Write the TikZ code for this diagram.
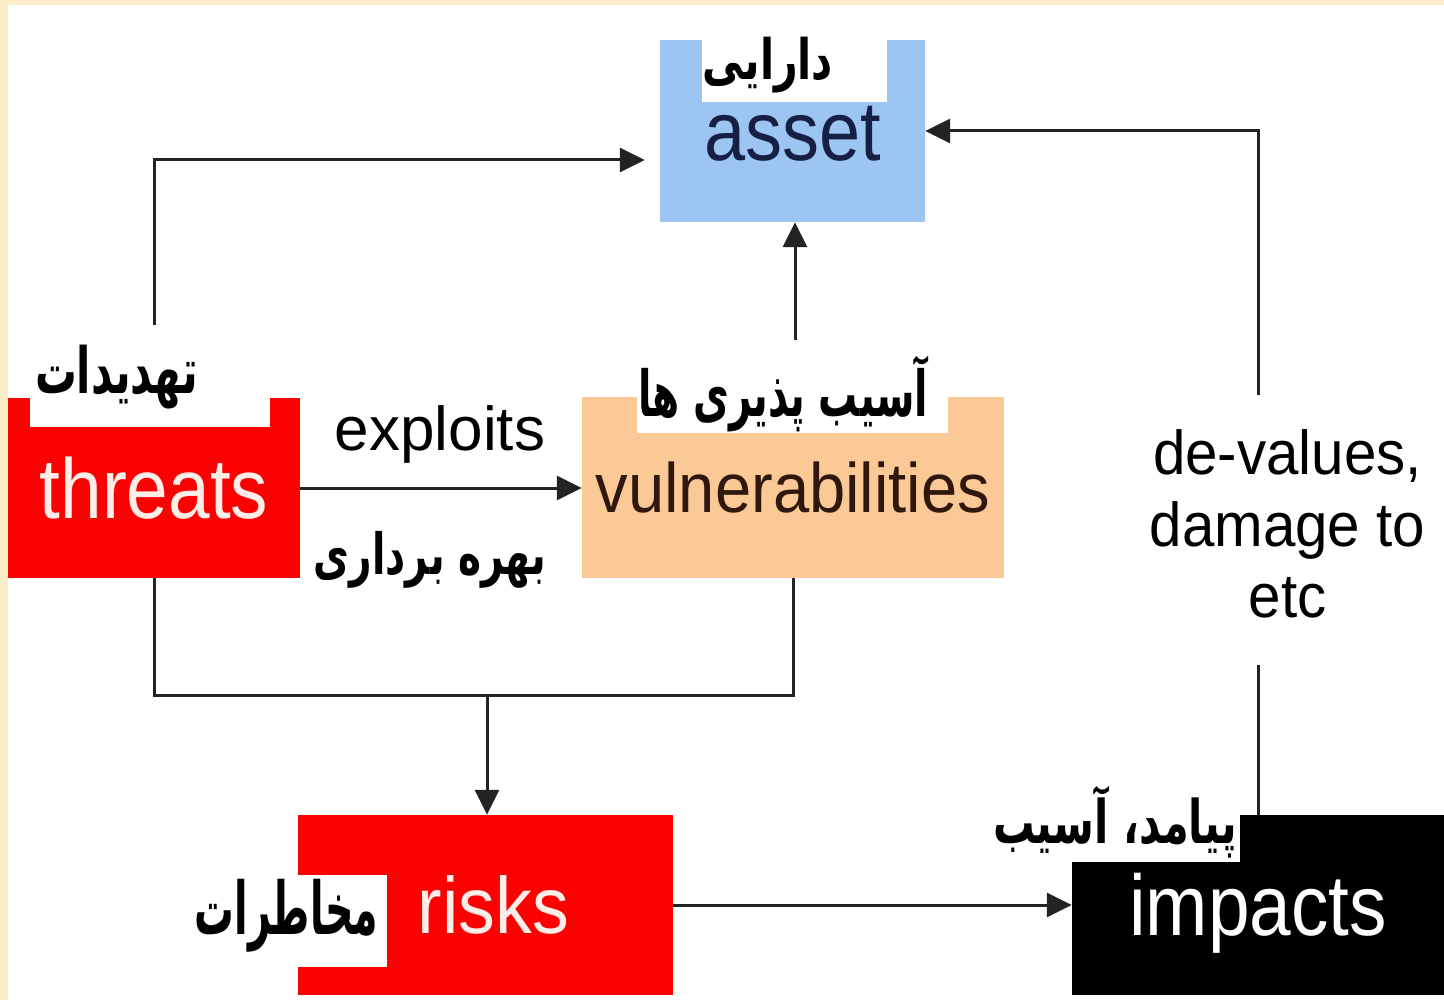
\documentclass[tikz,border=0pt]{standalone}
\usepackage{fontspec}
\setmainfont{Liberation Sans}
\newfontfamily\persianfont[Script=Arabic]{DejaVu Sans}
\TeXXeTstate=1
\usetikzlibrary{arrows.meta}
\definecolor{beige}{RGB}{252,238,200}
\definecolor{assetblue}{RGB}{157,197,242}
\definecolor{navytext}{RGB}{22,32,68}
\definecolor{peach}{RGB}{250,201,150}
\definecolor{browntext}{RGB}{48,24,14}
\definecolor{boxred}{RGB}{250,2,2}
\definecolor{pinkwhite}{RGB}{255,238,232}
\definecolor{linegray}{RGB}{35,35,35}
\newcommand{\fatext}[3]{\resizebox*{#1}{#2}{\persianfont\bfseries #3}}
\begin{document}
\begin{tikzpicture}[x=1pt,y=-1pt,
  box/.style={rectangle, inner sep=0pt, text depth=0pt},
  lblrect/.style={rectangle, fill=white, inner sep=0pt},
  fatxt/.style={inner sep=0pt},
  conn/.style={draw=linegray, line width=3pt},
  arr/.style={conn, -{Triangle[length=25pt,width=24pt]}},
]
\fill[beige] (0,0) rectangle (1444,1000);
\fill[white] (8,5) rectangle (1444,1000);
\useasboundingbox (0,0) rectangle (1444,1000);

% boxes
\node[box, fill=assetblue, minimum width=265pt, minimum height=182pt, text height=60pt,
  text=navytext, font=\fontsize{84}{90}\selectfont] (asset) at (792.5,131) {\scalebox{0.88}[1]{asset}};
\node[box, fill=boxred, minimum width=292pt, minimum height=180pt, text height=61pt,
  text=pinkwhite, font=\fontsize{85}{90}\selectfont] (threats) at (154,488) {\scalebox{0.88}[1]{threats}};
\node[box, fill=peach, minimum width=422pt, minimum height=181pt, text height=50pt,
  text=browntext, font=\fontsize{70}{80}\selectfont] (vuln) at (793,487.5) {\scalebox{0.93}[1]{vulnerabilities}};
\node[box, fill=boxred, minimum width=375pt, minimum height=180pt, text height=57pt,
  text=pinkwhite, font=\fontsize{80}{90}\selectfont] (risks) at (485.5,905) {\hspace*{16pt}\scalebox{0.92}[1]{risks}};
\node[box, fill=black, minimum width=372pt, minimum height=180pt, text height=61.6pt,
  text=white, font=\fontsize{86}{90}\selectfont] (impacts) at (1258,905) {\scalebox{0.87}[1]{impacts}};

% edge labels
\node[anchor=base, inner sep=0pt, font=\fontsize{62}{70}\selectfont] (exploits) at (440,450) {exploits};
\node[fatxt] (exploitsfa) at (430,560) {\fatext{232pt}{57pt}{\beginR بهره برداری\endR}};
\node[align=center, inner sep=0pt, font=\fontsize{62}{71.5}\selectfont] (devalues) at (1287.5,524)
  {\scalebox{0.94}[1]{de-values,}\\\scalebox{0.94}[1]{damage to}\\\scalebox{0.94}[1]{etc}};

% connectors
\coordinate (tup) at (154,325);
\coordinate (tcorner) at (154,160);
\draw[arr, shorten >=15pt] (tup) -- (tcorner) -- (tcorner -| asset.west);
\draw[arr] (threats.east) -- (threats.east -| vuln.west);
\coordinate (vup) at (795,340);
\draw[arr] (vup) -- (vup |- asset.south);
\coordinate (j) at (487,695);
\draw[conn] (threats.south) |- (j) -| (vuln.south);
\draw[arr] (j) -- (j |- risks.north);
\draw[arr] (risks.east) -- (impacts.west);
\coordinate (dvbot) at (1258,665);
\coordinate (dvtop) at (1258,395);
\draw[conn] (impacts.north) -- (dvbot);
\draw[arr] (dvtop) |- (asset.east);

% Persian labels
\node[lblrect, minimum width=185pt, minimum height=64pt] (assetlbl) at (794.5,70) {};
\node[fatxt] (assetfa) at (768,65) {\fatext{130pt}{56pt}{\beginR دارایی\endR}};
\node[lblrect, minimum width=240pt, minimum height=77pt] (threatslbl) at (150,388.5) {};
\node[fatxt] (threatsfa) at (116.5,377.5) {\fatext{163pt}{64pt}{\beginR تهدیدات\endR}};
\node[lblrect, minimum width=311pt, minimum height=75pt] (vulnlbl) at (792.5,395.5) {};
\node[fatxt] (vulnfa) at (783,394) {\fatext{290pt}{76pt}{\beginR آسیب پذیری ها\endR}};
\node[lblrect, minimum width=197pt, minimum height=92pt] (riskslbl) at (288.5,921) {};
\node[fatxt] (risksfa) at (286.5,916) {\fatext{183pt}{73pt}{\beginR مخاطرات\endR}};
\node[lblrect, minimum width=250pt, minimum height=72pt] (impactslbl) at (1115,826) {};
\node[fatxt] (impactsfa) at (1115,822.5) {\fatext{244pt}{72pt}{\beginR پیامد، آسیب\endR}};
\end{tikzpicture}
\end{document}
